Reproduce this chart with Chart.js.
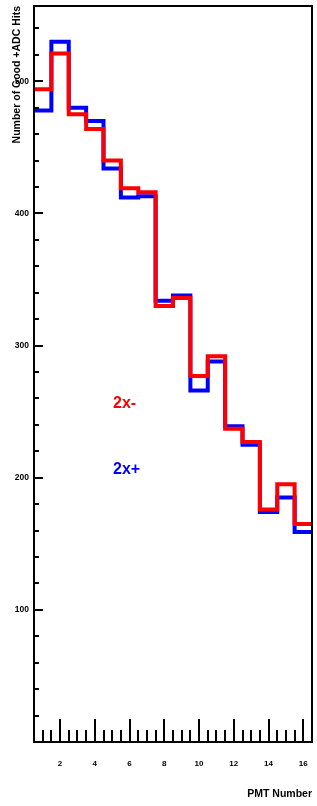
<!DOCTYPE html>
<html>
<head>
<meta charset="utf-8">
<script src="https://cdn.jsdelivr.net/npm/chart.js@4.4.1/dist/chart.umd.min.js"></script>
<style>
  html, body { margin: 0; padding: 0; background: #ffffff; overflow: hidden; }
  #wrap { width: 317px; height: 806px; position: relative; }
</style>
</head>
<body>
<div id="wrap"><canvas id="pmtChart"></canvas></div>
<script>
// ========================================
// PMT hit counts, 2x+ vs 2x-
// ========================================

// PMT bins (centres)
const pmtNumbers = [1, 2, 3, 4, 5, 6, 7, 8, 9, 10, 11, 12, 13, 14, 15, 16];

// Number of good +ADC hits per PMT
const hits2xPlus  = [478, 530, 480, 470, 434, 412, 413, 334, 338, 266, 288, 239, 225, 174, 185, 159];
const hits2xMinus = [494, 521, 475, 464, 440, 419, 416, 330, 336, 277, 292, 237, 227, 176, 195, 165];

// Tick labels
const xTickValues = [2, 4, 6, 8, 10, 12, 14, 16];
const yTickValues = [100, 200, 300, 400, 500];

// Axis ranges
const xRange = [0.5, 16.5];
const yRange = [0, 557];

// In-plot series labels, placed in data coordinates
const seriesLabels = [
    { text: '2x-', x: 5.05, y: 256, color: '#ff0000' },
    { text: '2x+', x: 5.05, y: 206, color: '#0000ff' }
];

const FONT = '"Liberation Sans", Arial, Helvetica, sans-serif';

/**
 * Turn bin contents into step points at the bin edges
 */
function toSteps(centres, values) {
    const pts = centres.map((c, i) => ({ x: c - 0.5, y: values[i] }));
    pts.push({ x: centres[centres.length - 1] + 0.5, y: values[values.length - 1] });
    return pts;
}

// Frame, inward ticks, tick labels and text labels
const framePlugin = {
    id: 'frame',
    afterDatasetsDraw(chart) {
        const { ctx, chartArea: a, scales } = chart;
        const xs = scales.x, ys = scales.y;
        ctx.save();
        ctx.strokeStyle = '#000';
        ctx.fillStyle = '#000';

        // x ticks: minor every 0.5, major every 2
        ctx.lineWidth = 2;
        for (let v = xRange[0]; v <= xRange[1] + 1e-9; v += 0.5) {
            const px = Math.round(xs.getPixelForValue(v));
            const major = Math.abs(v % 2) < 1e-9;
            const len = major ? 23 : 12;
            ctx.beginPath();
            ctx.moveTo(px, a.bottom);
            ctx.lineTo(px, a.bottom - len);
            ctx.stroke();
        }

        // y ticks: minor every 20, major every 100
        for (let v = 20; v < yRange[1]; v += 20) {
            const py = Math.round(ys.getPixelForValue(v));
            const major = v % 100 === 0;
            const len = major ? 9 : 5;
            ctx.beginPath();
            ctx.moveTo(a.left, py);
            ctx.lineTo(a.left + len, py);
            ctx.stroke();
        }

        // box around the plot
        ctx.lineWidth = 2;
        ctx.strokeRect(a.left, a.top, a.right - a.left, a.bottom - a.top);

        // tick labels
        ctx.font = 'bold 8px ' + FONT;
        ctx.textAlign = 'center';
        ctx.textBaseline = 'middle';
        xTickValues.forEach(v => {
            ctx.fillText(String(v), xs.getPixelForValue(v), a.bottom + 22);
        });
        ctx.font = 'bold 8.5px ' + FONT;
        ctx.textAlign = 'right';
        yTickValues.forEach(v => {
            ctx.fillText(String(v), a.left - 5, ys.getPixelForValue(v));
        });

        // series labels
        ctx.font = 'bold 16px ' + FONT;
        ctx.textAlign = 'left';
        seriesLabels.forEach(l => {
            ctx.fillStyle = l.color;
            ctx.fillText(l.text, xs.getPixelForValue(l.x), ys.getPixelForValue(l.y));
        });
        ctx.restore();
    }
};

const ctx = document.getElementById('pmtChart').getContext('2d');
const chart = new Chart(ctx, {
    type: 'line',
    data: {
        datasets: [
            {
                label: '2x-',
                data: toSteps(pmtNumbers, hits2xMinus),
                borderColor: '#ff0000',
                borderWidth: 4,
                stepped: 'before',
                pointRadius: 0,
                fill: false,
                order: 0
            },
            {
                label: '2x+',
                data: toSteps(pmtNumbers, hits2xPlus),
                borderColor: '#0000ff',
                borderWidth: 4,
                stepped: 'before',
                pointRadius: 0,
                fill: false,
                order: 1
            }
        ]
    },
    options: {
        responsive: true,
        maintainAspectRatio: false,
        animation: false,
        layout: { padding: { top: 6, right: 5, left: 0, bottom: 0 } },
        plugins: {
            legend: { display: false },
            tooltip: { enabled: false }
        },
        scales: {
            x: {
                type: 'linear',
                min: xRange[0],
                max: xRange[1],
                afterFit: s => { s.height = 64; },
                grid: { display: false, drawTicks: false },
                border: { display: true, color: '#000', width: 2 },
                ticks: { display: false },
                title: {
                    display: true,
                    text: 'PMT Number',
                    align: 'end',
                    color: '#000',
                    font: { family: FONT, size: 10.5, weight: 'bold' },
                    padding: { top: 0, bottom: 6 }
                }
            },
            y: {
                type: 'linear',
                min: yRange[0],
                max: yRange[1],
                afterFit: s => { s.width = 34; },
                grid: { display: false, drawTicks: false },
                border: { display: true, color: '#000', width: 2 },
                ticks: { display: false },
                title: {
                    display: true,
                    text: 'Number of Good +ADC Hits',
                    align: 'end',
                    color: '#000',
                    font: { family: FONT, size: 10.5, weight: 'bold' },
                    padding: { top: 11, bottom: 0 }
                }
            }
        }
    },
    plugins: [framePlugin]
});
</script>
</body>
</html>
